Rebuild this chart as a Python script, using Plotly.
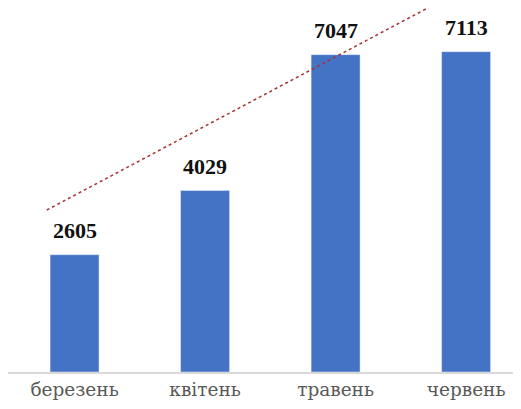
import numpy as np
import plotly.graph_objects as go

months = ["березень", "квітень", "травень", "червень"]
values = [2605, 4029, 7047, 7113]
labels = ["2605", "4029", "7047", "7113"]
# trendline values read at each category position
trend_values = [3924, 5461, 6998, 8535]

xpos = list(range(len(months)))
coef = np.polyfit(xpos, trend_values, 1)
tx = np.array([-0.213, 3.2])
ty = np.polyval(coef, tx)

fig = go.Figure()
fig.add_trace(go.Bar(
    x=xpos, y=values,
    width=0.375, marker_color="#4472C4",
))
fig.add_trace(go.Scatter(
    x=tx, y=ty, mode="lines",
    line=dict(color="#A83232", width=1.5, dash="dot"),
    hoverinfo="skip",
))
for xi, v, lab in zip(xpos, values, labels):
    fig.add_annotation(
        x=xi, y=v, text="<b>" + lab + "</b>", showarrow=False,
        yanchor="bottom", yshift=10,
        font=dict(family="Liberation Serif", size=22, color="#111111"),
    )
fig.update_layout(
    width=521, height=409,
    margin=dict(l=0, r=0, t=0, b=45, autoexpand=False),
    paper_bgcolor="white", plot_bgcolor="white",
    showlegend=False,
    xaxis=dict(range=[-0.51, 3.482], tickvals=xpos, ticktext=months,
               automargin=False,
               showgrid=False, zeroline=False, showline=True,
               linecolor="#d9d9d9", linewidth=1.5, ticks="",
               tickfont=dict(family="DejaVu Serif", size=18.5, color="#595959")),
    yaxis=dict(range=[0, 8083], visible=False, showgrid=False, zeroline=False,
               automargin=False),
)
fig.write_html("out.html")
